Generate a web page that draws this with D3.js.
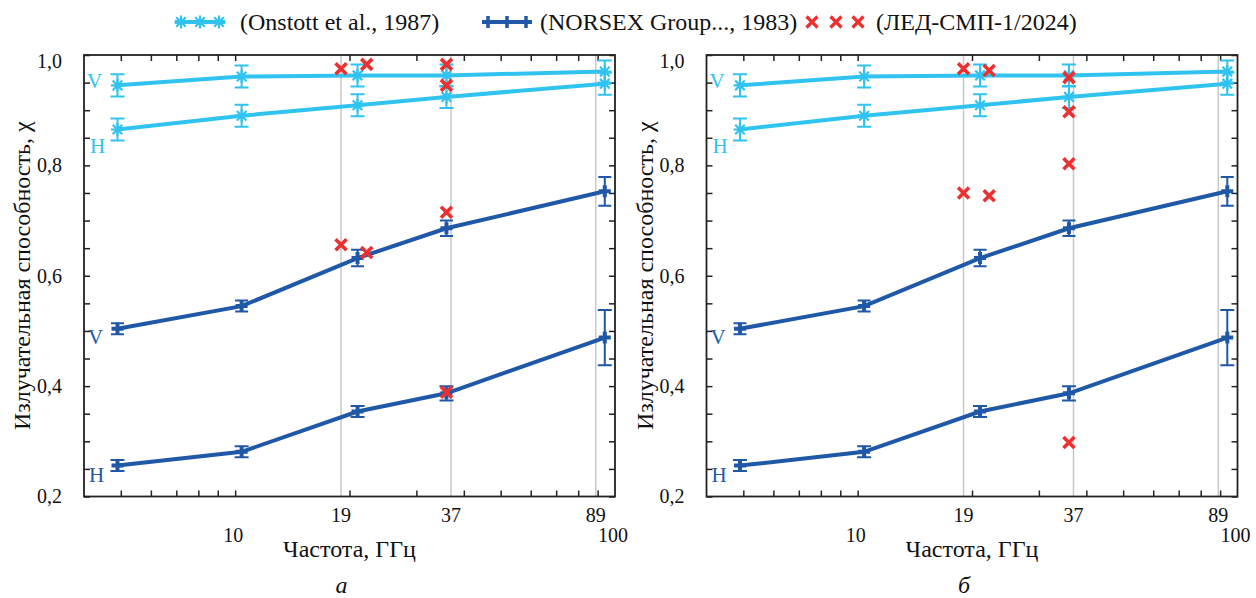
<!DOCTYPE html>
<html>
<head>
<meta charset="utf-8">
<script src="https://cdn.jsdelivr.net/npm/d3@7"></script>
<style>
  body { margin: 0; background: #fff; }
  svg { font-family: "Liberation Serif", "Times New Roman", serif; }
</style>
</head>
<body>
<div id="chart"></div>
<script>
// frequencies, GHz
const refFreq = [4.9, 10.4, 21, 36, 94];

// Onstott et al., 1987
const onstottV = [0.945, 0.961, 0.963, 0.963, 0.970];
const onstottH = [0.865, 0.890, 0.909, 0.924, 0.948];
const onstottErr = [0.02, 0.02, 0.02, 0.02, 0.02];

// NORSEX Group..., 1983
const norsexV = [0.504, 0.545, 0.632, 0.686, 0.753];
const norsexVErr = [0.01, 0.01, 0.015, 0.014, 0.026];
const norsexH = [0.256, 0.281, 0.354, 0.387, 0.488];
const norsexHErr = [0.01, 0.01, 0.01, 0.013, 0.05];

// ЛЕД-СМП-1/2024
const iceFreq = [19, 19, 22.2, 22.2, 36, 36, 36, 36];
const iceA = [0.975, 0.656, 0.983, 0.642, 0.983, 0.945, 0.715, 0.389];
const iceB = [0.975, 0.750, 0.972, 0.745, 0.959, 0.897, 0.803, 0.298];

const guideFreq = [19, 37, 89];
const xLabelsHigh = [19, 37, 89];
const xLabelsLow = [10, 100];
const xMinor = [5, 6, 7, 8, 9, 10, 20, 30, 40, 50, 60, 70, 80, 90];
const yTicks = d3.range(4, 21).map(i => i / 20);
const yLabels = [0.2, 0.4, 0.6, 0.8, 1.0];

const legendItems = [
    { label: '(Onstott et al., 1987)', kind: 'onstott' },
    { label: '(NORSEX Group..., 1983)', kind: 'norsex' },
    { label: '(ЛЕД-СМП-1/2024)', kind: 'ice' }
];

const lightBlue = '#30c3f0';
const darkBlue = '#2058a8';
const red = '#ec3030';
const serif = '"Liberation Serif", "Times New Roman", serif';

const width = 1256;
const height = 598;
const plotTop = 55;
const plotBottom = 496.5;
const plotW = 531;
const plotH = plotBottom - plotTop;

const sym = {
    onstott: 'M-6.5,0H6.5M0,-6.5V6.5M-4.8,-4.8L4.8,4.8M-4.8,4.8L4.8,-4.8',
    norsex: 'M-6,0H6M0,-6V6',
    ice: 'M-5.5,-5.5L5.5,5.5M-5.5,5.5L5.5,-5.5'
};

const fmt = v => d3.format('.1f')(v).replace('.', ',');

const svg = d3.select('#chart')
    .append('svg')
    .attr('width', width)
    .attr('height', height)
    .attr('font-family', serif);

const x = d3.scaleLog().domain([4, 100]).range([0, plotW]);
const y = d3.scaleLinear().domain([0.2, 1.0]).range([plotH, 0]);

function drawSeries(g, vals, errs, color, kind, cap) {
    const pts = refFreq.map((f, i) => ({ f: f, v: vals[i], e: errs[i] }));
    const line = d3.line().x(d => x(d.f)).y(d => y(d.v));
    g.append('path')
        .attr('d', line(pts))
        .attr('fill', 'none')
        .attr('stroke', color)
        .attr('stroke-width', 4);
    const eb = g.append('g')
        .attr('stroke', color)
        .attr('stroke-width', 2)
        .attr('fill', 'none');
    pts.forEach(d => {
        const px = x(d.f), y1 = y(d.v - d.e), y2 = y(d.v + d.e);
        eb.append('path')
            .attr('d', 'M' + px + ',' + y1 + 'V' + y2 +
                'M' + (px - cap) + ',' + y1 + 'H' + (px + cap) +
                'M' + (px - cap) + ',' + y2 + 'H' + (px + cap));
    });
    g.append('g')
        .selectAll('path')
        .data(pts)
        .enter()
        .append('path')
        .attr('transform', d => 'translate(' + x(d.f) + ',' + y(d.v) + ')')
        .attr('d', sym[kind])
        .attr('fill', 'none')
        .attr('stroke', color)
        .attr('stroke-width', kind === 'norsex' ? 4 : 2.2);
}

function drawPanel(left, ice, letter) {
    const g = svg.append('g')
        .attr('transform', 'translate(' + left + ',' + plotTop + ')');

    // guide lines
    g.append('g')
        .selectAll('line')
        .data(guideFreq)
        .enter()
        .append('line')
        .attr('x1', d => x(d)).attr('x2', d => x(d))
        .attr('y1', 0).attr('y2', plotH)
        .attr('stroke', '#c8c8c8')
        .attr('stroke-width', 1.5);

    // axes
    const axisColor = '#222';
    const yl = g.append('g')
        .call(d3.axisLeft(y).tickValues(yTicks).tickSize(-6).tickPadding(22)
            .tickFormat(d => yLabels.some(v => Math.abs(v - d) < 1e-9) ? fmt(d) : ''));
    yl.attr('font-family', serif).attr('font-size', 20);
    yl.selectAll('text')
        .attr('fill', '#111')
        .filter(d => Math.abs(d - 1) < 1e-9)
        .attr('dy', '0.64em');
    g.append('g')
        .attr('transform', 'translate(' + plotW + ',0)')
        .call(d3.axisRight(y).tickValues(yTicks).tickSize(-6).tickFormat(''));
    g.append('g')
        .attr('transform', 'translate(0,' + plotH + ')')
        .call(d3.axisBottom(x).tickValues(xMinor).tickSize(-6).tickFormat(''));
    g.append('g')
        .call(d3.axisTop(x).tickValues(xMinor).tickSize(-6).tickFormat(''));
    g.selectAll('.domain').remove();
    g.selectAll('.tick line').attr('stroke', axisColor).attr('stroke-width', 1.5);

    g.append('rect')
        .attr('width', plotW)
        .attr('height', plotH)
        .attr('fill', 'none')
        .attr('stroke', axisColor)
        .attr('stroke-width', 1.8);

    // x labels
    g.append('g')
        .selectAll('text')
        .data(xLabelsHigh)
        .enter()
        .append('text')
        .attr('x', d => x(d))
        .attr('y', plotH + 25)
        .attr('text-anchor', 'middle')
        .attr('font-size', 20)
        .attr('fill', '#111')
        .text(d => d);
    g.append('g')
        .selectAll('text')
        .data(xLabelsLow)
        .enter()
        .append('text')
        .attr('x', d => x(d) - 2)
        .attr('y', plotH + 45)
        .attr('text-anchor', 'middle')
        .attr('font-size', 20)
        .attr('fill', '#111')
        .text(d => d);

    g.append('text')
        .attr('x', plotW / 2)
        .attr('y', plotH + 60)
        .attr('text-anchor', 'middle')
        .attr('font-size', 24)
        .attr('fill', '#111')
        .text('Частота, ГГц');

    g.append('text')
        .attr('transform', 'translate(-54,' + plotH / 2 + ') rotate(-90)')
        .attr('text-anchor', 'middle')
        .attr('font-size', 24)
        .attr('fill', '#111')
        .text('Излучательная способность, χ');

    g.append('text')
        .attr('x', plotW / 2 - 8)
        .attr('y', plotH + 96)
        .attr('text-anchor', 'middle')
        .attr('font-size', 24)
        .attr('font-style', 'italic')
        .attr('fill', '#111')
        .text(letter);

    // series
    drawSeries(g, onstottV, onstottErr, lightBlue, 'onstott', 7);
    drawSeries(g, onstottH, onstottErr, lightBlue, 'onstott', 7);
    drawSeries(g, norsexV, norsexVErr, darkBlue, 'norsex', 6.5);
    drawSeries(g, norsexH, norsexHErr, darkBlue, 'norsex', 7);

    // V / H labels
    const pol = [
        { t: 'V', v: onstottV[0], c: lightBlue, dx: 3, dy: 3 },
        { t: 'H', v: onstottH[0], c: lightBlue, dx: 6, dy: 23 },
        { t: 'V', v: norsexV[0], c: darkBlue, dx: 4, dy: 15 },
        { t: 'H', v: norsexH[0], c: darkBlue, dx: 5, dy: 16 }
    ];
    g.append('g')
        .selectAll('text')
        .data(pol)
        .enter()
        .append('text')
        .attr('x', d => d.dx)
        .attr('y', d => y(d.v) + d.dy)
        .attr('font-size', 21)
        .attr('fill', d => d.c)
        .text(d => d.t);

    // measurements
    g.append('g')
        .selectAll('path')
        .data(iceFreq.map((f, i) => ({ f: f, v: ice[i] })))
        .enter()
        .append('path')
        .attr('transform', d => 'translate(' + x(d.f) + ',' + y(d.v) + ')')
        .attr('d', sym.ice)
        .attr('fill', 'none')
        .attr('stroke', red)
        .attr('stroke-width', 3.6);
}

drawPanel(84, iceA, 'а');
drawPanel(706.5, iceB, 'б');

// legend
const legendPos = [175, 482, 806];
const legendText = [240, 540, 876];
const legend = svg.append('g').attr('transform', 'translate(0,22)');
legendItems.forEach((item, i) => {
    const lg = legend.append('g').attr('transform', 'translate(' + legendPos[i] + ',0)');
    const color = item.kind === 'onstott' ? lightBlue : item.kind === 'norsex' ? darkBlue : red;
    if (item.kind !== 'ice') {
        lg.append('line')
            .attr('x1', 0).attr('x2', 50)
            .attr('stroke', color)
            .attr('stroke-width', 4);
    }
    (item.kind === 'ice' ? [6, 30, 52] : [6, 25, 44]).forEach(mx => {
        lg.append('path')
            .attr('transform', 'translate(' + mx + ',0)')
            .attr('d', sym[item.kind])
            .attr('fill', 'none')
            .attr('stroke', color)
            .attr('stroke-width', item.kind === 'onstott' ? 2.2 : item.kind === 'norsex' ? 3.5 : 3.2);
    });
    legend.append('text')
        .attr('x', legendText[i])
        .attr('y', 8)
        .attr('font-size', 24)
        .attr('fill', '#111')
        .text(item.label);
});
</script>
</body>
</html>
